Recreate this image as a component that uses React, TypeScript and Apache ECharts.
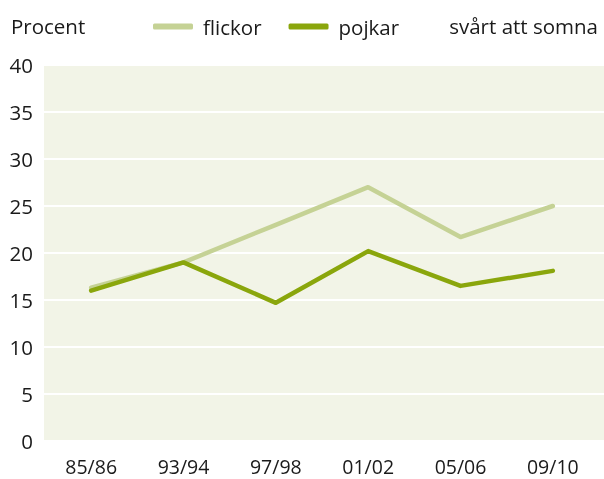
import React, { useEffect, useRef } from "react";
import * as echarts from "echarts";

const categories = ["85/86", "93/94", "97/98", "01/02", "05/06", "09/10"];
const flickor = [16.3, 19.0, 23.0, 27.0, 21.7, 25.0];
const pojkar = [16.0, 19.0, 14.7, 20.2, 16.5, 18.1];
const yTicks = { min: 0, max: 40, interval: 5 };
const seriesNames = ["flickor", "pojkar"];
const unitLabel = "Procent";
const topicLabel = "svårt att somna";

const FONT = "'Open Sans', 'Noto Sans', sans-serif";
const FS = 20.5;

export default function App() {
  const ref = useRef<HTMLDivElement>(null);
  useEffect(() => {
    if (!ref.current) return;
    const chart = echarts.init(ref.current, null, { renderer: "svg" });
    const top = 65;
    const bottom = 38;
    chart.setOption({
      animation: false,
      textStyle: { fontFamily: FONT },
      grid: [
        { left: 45, right: 5, top, bottom, show: false },
        {
          left: 44,
          right: 0,
          top,
          bottom,
          show: true,
          backgroundColor: "#f2f4e7",
          borderWidth: 0,
          z: 0,
        },
      ],
      legend: {
        data: seriesNames,
        left: 148,
        top: 11,
        icon: "roundRect",
        itemWidth: 40,
        itemHeight: 6,
        itemGap: 27,
        textStyle: { fontFamily: FONT, fontSize: FS, color: "#1a1a1a", padding: [0, 0, 0, 5] },
      },
      graphic: [
        {
          type: "text",
          left: 11,
          top: 15,
          style: { text: unitLabel, font: `${FS}px ${FONT}`, fill: "#1a1a1a" },
        },
        {
          type: "text",
          right: 6,
          top: 15,
          style: { text: topicLabel, font: `${FS}px ${FONT}`, fill: "#1a1a1a" },
        },
      ],
      xAxis: [
        {
          type: "category",
          gridIndex: 0,
          data: categories,
          boundaryGap: true,
          axisLine: { show: false },
          axisTick: { show: false },
          axisLabel: {
            fontFamily: FONT,
            fontSize: 19.5,
            lineHeight: 18,
            color: "#1a1a1a",
            margin: 16,
          },
        },
        {
          type: "value",
          gridIndex: 1,
          show: false,
          min: 0,
          max: 1,
        },
      ],
      yAxis: [
        {
          type: "value",
          gridIndex: 0,
          ...yTicks,
          axisLine: { show: false },
          axisTick: { show: false },
          splitLine: { show: false },
          axisLabel: { fontFamily: FONT, fontSize: FS, color: "#1a1a1a", margin: 12 },
        },
        {
          type: "value",
          gridIndex: 1,
          ...yTicks,
          axisLine: { show: false },
          axisTick: { show: false },
          axisLabel: { show: false },
          splitLine: { show: true, lineStyle: { color: "#ffffff", width: 2 } },
        },
      ],
      series: [
        {
          name: seriesNames[0],
          type: "line",
          data: flickor,
          xAxisIndex: 0,
          yAxisIndex: 0,
          showSymbol: false,
          symbol: "none",
          color: "#c5d295",
          lineStyle: { width: 4.5, color: "#c5d295", cap: "round", join: "round" },
          z: 3,
        },
        {
          name: seriesNames[1],
          type: "line",
          data: pojkar,
          xAxisIndex: 0,
          yAxisIndex: 0,
          showSymbol: false,
          symbol: "none",
          color: "#8aa60c",
          lineStyle: { width: 4.5, color: "#8aa60c", cap: "round", join: "round" },
          z: 4,
        },
      ],
    });
    return () => chart.dispose();
  }, []);
  return (
    <div
      ref={ref}
      style={{ position: "fixed", left: 0, top: 0, width: 604, height: 479 }}
    />
  );
}
